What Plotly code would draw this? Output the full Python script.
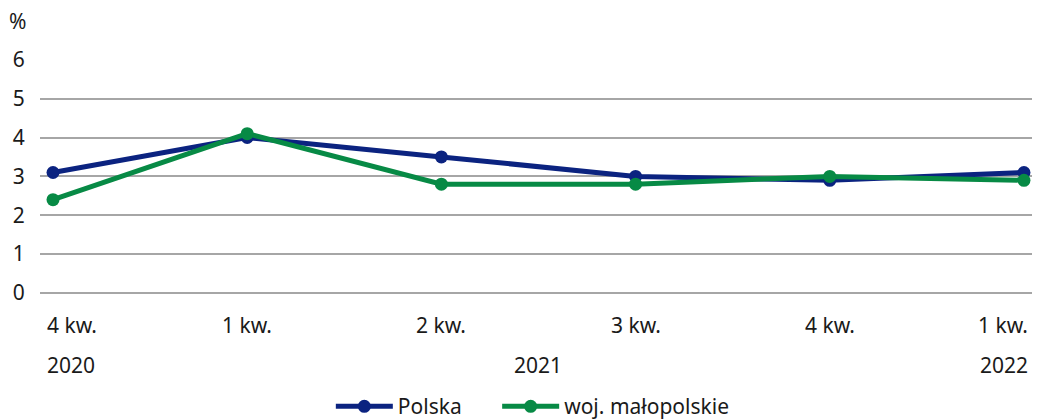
import plotly.graph_objects as go

quarters = ["4 kw.", "1 kw.", "2 kw.", "3 kw.", "4 kw.", "1 kw."]
years = ["2020", "2021", "2022"]
year_pos = [0, 2.5, 5]
polska = [3.1, 4.0, 3.5, 3.0, 2.9, 3.1]
malopolskie = [2.4, 4.1, 2.8, 2.8, 3.0, 2.9]
y_ticks = [0, 1, 2, 3, 4, 5, 6]

FONT = "Noto Sans"
FS = 21
TXT = "#1a1a1a"
x_idx = list(range(len(quarters)))
n = len(quarters)

fig = go.Figure()
fig.add_trace(go.Scatter(x=x_idx, y=polska, name="Polska", mode="lines+markers",
                         line=dict(color="#0b2380", width=5),
                         marker=dict(size=13, color="#0b2380"), legend="legend"))
fig.add_trace(go.Scatter(x=x_idx, y=malopolskie, name="woj. małopolskie", mode="lines+markers",
                         line=dict(color="#078a45", width=5),
                         marker=dict(size=13, color="#078a45"), legend="legend2"))

leg_common = dict(orientation="h", y=-0.398, yanchor="top", yref="paper", xanchor="left",
                  font=dict(size=FS, family=FONT, color=TXT), itemwidth=57)

# page body has an 8px margin, so the figure is sized/offset to compensate
fig.update_layout(
    width=1032, height=411,
    margin=dict(l=32, r=4, t=51, b=126, autoexpand=False),
    plot_bgcolor="white", paper_bgcolor="white",
    font=dict(family=FONT, size=FS, color=TXT),
    showlegend=True,
    legend=dict(x=0.292, **leg_common),
    legend2=dict(x=0.459, **leg_common),
    xaxis=dict(range=[-0.067, 5.062], tickmode="array", tickvals=x_idx,
               showticklabels=False, showgrid=False, zeroline=False, showline=False,
               ticks="", automargin=False),
    yaxis=dict(range=[0, 6.02], tickmode="array", tickvals=y_ticks, showgrid=True,
               gridcolor="#a6a6a6", gridwidth=1.5, zeroline=True, zerolinecolor="#a6a6a6",
               zerolinewidth=1.5, showline=False, ticks="outside", ticklen=10,
               tickcolor="rgba(0,0,0,0)", automargin=False),
)

# quarter labels (first/last kept inside the plot like in the reference)
for i, q in enumerate(quarters):
    if i == 0:
        anchor, xs = "left", -8
    elif i == n - 1:
        anchor, xs = "right", 6
    else:
        anchor, xs = "center", 0
    fig.add_annotation(x=i, y=0, xref="x", yref="y", text=q, showarrow=False,
                       xanchor=anchor, yanchor="middle", xshift=xs, yshift=-32,
                       font=dict(size=FS, family=FONT, color=TXT))

for yr, pos in zip(years, year_pos):
    if pos == 0:
        anchor, xs = "left", -8
    elif pos == n - 1:
        anchor, xs = "right", 6
    else:
        anchor, xs = "center", 0
    fig.add_annotation(x=pos, y=0, xref="x", yref="y", text=yr, showarrow=False,
                       xanchor=anchor, yanchor="middle", xshift=xs, yshift=-72,
                       font=dict(size=FS, family=FONT, color=TXT))

fig.add_annotation(x=0, y=1, xref="paper", yref="paper", text="%", showarrow=False,
                   xanchor="center", yanchor="middle", xshift=-23, yshift=38,
                   font=dict(size=21, family=FONT, color=TXT))

fig.write_html("out.html")
